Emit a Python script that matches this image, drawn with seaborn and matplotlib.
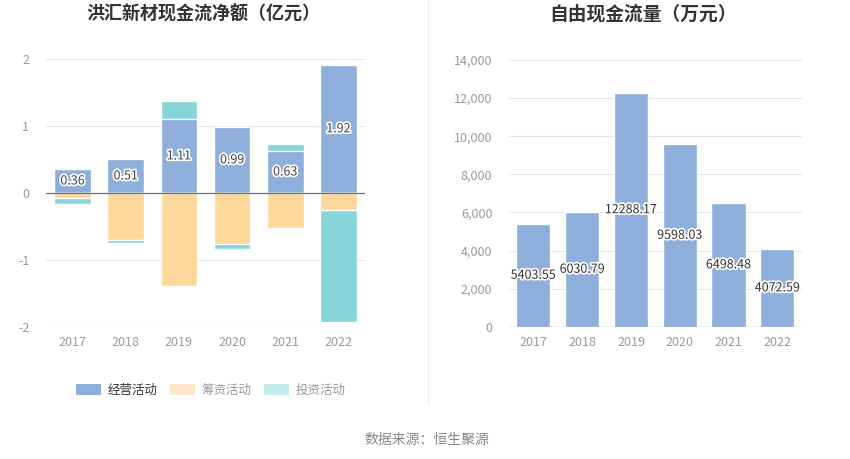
import matplotlib
matplotlib.use('Agg')
import numpy as np
import matplotlib.pyplot as plt
import matplotlib.patheffects as pe
from matplotlib.patches import Patch
from matplotlib.lines import Line2D
from matplotlib.ticker import FuncFormatter
import seaborn as sns

# data
years = ['2017', '2018', '2019', '2020', '2021', '2022']
operating = [0.36, 0.51, 1.11, 0.99, 0.63, 1.92]
financing = [-0.08, -0.71, -1.39, -0.76, -0.53, -0.26]
investing = [-0.085, -0.04, 0.26, -0.08, 0.11, -1.67]
free_cf = [5403.55, 6030.79, 12288.17, 9598.03, 6498.48, 4072.59]
series_names = ['经营活动', '筹资活动', '投资活动']

c_op = '#8eaedb'
c_fin = '#fed89a'
c_inv = '#87d5d8'
grid_c = '#e0e6f1'
tick_c = '#999999'

sns.set_theme(style='white')
plt.rcParams['font.family'] = ['Noto Sans CJK SC', 'DejaVu Sans']
plt.rcParams['axes.unicode_minus'] = False

fig = plt.figure(figsize=(8.5, 4.59), dpi=100)
ax1 = fig.add_axes([0.0541, 0.2882, 0.3753, 0.5826])
ax2 = fig.add_axes([0.5988, 0.2882, 0.3444, 0.5810])

# stacked bars: positives stack up from 0, negatives down from 0
op = np.array(operating)
fin = np.array(financing)
inv = np.array(investing)
inv_top = op + np.clip(inv, 0, None)
inv_bot = fin + np.clip(inv, None, 0)

halo = [pe.withStroke(linewidth=2.5, foreground='white')]

for ax in (ax1, ax2):
    for s in ax.spines.values():
        s.set_visible(False)

for v in [-2, -1, 1, 2]:
    ax1.axhline(v, color=grid_c, lw=0.8, zorder=0)
sns.barplot(x=years, y=inv_top, color=c_inv, saturation=1, width=0.69, ax=ax1, zorder=2)
sns.barplot(x=years, y=operating, color=c_op, saturation=1, width=0.69, ax=ax1, zorder=2)
sns.barplot(x=years, y=inv_bot, color=c_inv, saturation=1, width=0.69, ax=ax1, zorder=2)
sns.barplot(x=years, y=financing, color=c_fin, saturation=1, width=0.69, ax=ax1, zorder=2)
ax1.axhline(0, color='#6e7079', lw=0.9, zorder=3)
ax1.bar_label(ax1.containers[1], labels=[f'{v:.2f}' for v in operating],
              label_type='center', fontsize=9, color='#444444',
              path_effects=halo, zorder=4)
ax1.set_ylim(-2, 2)
ax1.set_xlim(-0.5, 5.5)
ax1.set_yticks([-2, -1, 0, 1, 2])
ax1.set_yticklabels(['-2', '-1', '0', '1', '2'])
ax1.tick_params(axis='both', length=0, labelsize=9, labelcolor=tick_c, pad=7)
ax1.tick_params(axis='y', pad=12)
ax1.set_xlabel('')
ax1.set_ylabel('')

for v in range(2000, 14001, 2000):
    ax2.axhline(v, color=grid_c, lw=0.8, zorder=0)
sns.barplot(x=years, y=free_cf, color=c_op, saturation=1, width=0.7, ax=ax2, zorder=2)
ax2.axhline(0, color='#6e7079', lw=0.9, zorder=3)
ax2.bar_label(ax2.containers[0], labels=[f'{v:.2f}' for v in free_cf],
              label_type='center', fontsize=9, color='#333333',
              path_effects=halo, zorder=4)
ax2.set_ylim(0, 14000)
ax2.set_xlim(-0.5, 5.5)
ax2.set_yticks(range(0, 14001, 2000))
ax2.yaxis.set_major_formatter(FuncFormatter(lambda v, _: f'{v:,.0f}'))
ax2.tick_params(axis='x', length=4, color='#6e7079', labelsize=9, labelcolor=tick_c, pad=3)
ax2.tick_params(axis='y', length=0, labelsize=9, labelcolor=tick_c, pad=12)
ax2.set_xlabel('')
ax2.set_ylabel('')

# titles
fig.text(0.2395, 0.970, '洪汇新材现金流净额（亿元）', ha='center', va='center',
         fontsize=13, fontweight='bold', color='#333333')
fig.text(0.756, 0.970, '自由现金流量（万元）', ha='center', va='center',
         fontsize=13.5, fontweight='bold', color='#333333')

# separator
fig.add_artist(Line2D([428 / 850, 428 / 850], [1 - 405 / 459, 1.0],
                      color='#eeeeee', lw=1))

# legend
handles = [Patch(facecolor=c, edgecolor='none') for c in [c_op, '#fde8c9', '#c3ebed']]
leg = fig.legend(handles, series_names, loc='center', bbox_to_anchor=(0.248, 1 - 390 / 459),
                 ncol=3, frameon=False, fontsize=9, handlelength=2.0, handleheight=1.0,
                 columnspacing=1.0, handletextpad=0.5)
for t, c in zip(leg.get_texts(), ['#333333', '#999999', '#999999']):
    t.set_color(c)

fig.text(0.502, 1 - 440 / 459, '数据来源：恒生聚源', ha='center', va='center',
         fontsize=10, color='#888888')

fig.savefig('out.png', dpi=100)
